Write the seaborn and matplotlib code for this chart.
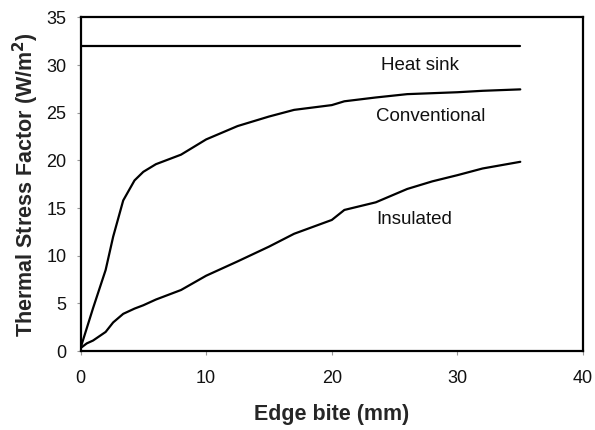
import numpy as np
import pandas as pd
import seaborn as sns
import matplotlib
matplotlib.use("Agg")
import matplotlib.pyplot as plt

# edge bite positions (mm)
edge_bite = [0, 0.5, 1, 2, 2.6, 3.4, 4.3, 5, 6, 8, 10, 12.5, 15, 17,
             20, 21, 23.5, 26, 28, 30, 32, 35]
conventional = [0.3, 2.4, 4.5, 8.5, 12.0, 15.8, 17.9, 18.8, 19.6, 20.6, 22.2,
                23.6, 24.6, 25.3, 25.8, 26.2, 26.6, 26.95, 27.05, 27.15, 27.3, 27.45]
insulated = [0.3, 0.8, 1.1, 2.0, 3.0, 3.9, 4.45, 4.8, 5.4, 6.4, 7.9,
             9.4, 10.95, 12.3, 13.75, 14.8, 15.6, 17.0, 17.8, 18.45, 19.15, 19.85]
heat_sink_x = [0, 35]
heat_sink = [32, 32]

# label text and where it sits (data coords)
series_labels = ["Heat sink", "Conventional", "Insulated"]
label_x = [23.9, 23.5, 23.5]
label_y = [30.0, 24.6, 13.85]

sns.set_style("white")
plt.rcParams['font.family'] = ['Liberation Sans', 'DejaVu Sans']

fig = plt.figure(figsize=(5.95, 4.30), dpi=100)
ax = fig.add_axes([0.1353, 0.1837, 0.8447, 0.7758])

df_conv = pd.DataFrame({"x": edge_bite, "y": conventional})
df_ins = pd.DataFrame({"x": edge_bite, "y": insulated})
df_hs = pd.DataFrame({"x": heat_sink_x, "y": heat_sink})

for d in [df_hs, df_conv, df_ins]:
    sns.lineplot(data=d, x="x", y="y", ax=ax, color="black", linewidth=1.6,
                 sort=False, estimator=None)

for txt, tx, ty in zip(series_labels, label_x, label_y):
    ax.text(tx, ty, txt, fontsize=13.5, va="center", ha="left", color="#111111")

ax.set_xlim(0, 40)
ax.set_ylim(0, 35)
ax.set_xticks(range(0, 41, 10))
ax.set_yticks(range(0, 36, 5))
ax.tick_params(axis="both", labelsize=13, length=3, width=0.8, color="#999999",
               direction="out", bottom=True, left=True, labelcolor="#111111")
ax.tick_params(axis="x", pad=11)
ax.tick_params(axis="y", pad=7)
for s in ax.spines.values():
    s.set_color("black")
    s.set_linewidth(1.6)

ax.set_xlabel("Edge bite (mm)", fontsize=15.5, fontweight="bold", labelpad=12)
ax.set_ylabel("Thermal Stress Factor (W/m$^\\mathbf{2}$)", fontsize=15.5,
              fontweight="bold", labelpad=4)

fig.savefig("out.png", dpi=100)
